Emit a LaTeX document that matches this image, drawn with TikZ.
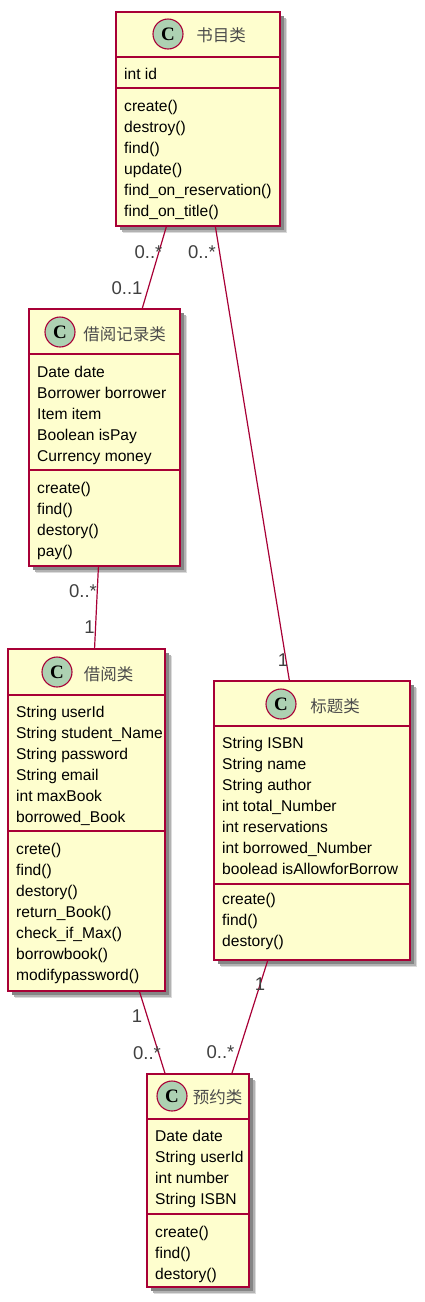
\documentclass[tikz,border=0pt]{standalone}
\usepackage{fontspec}
\setmainfont{Liberation Sans}
\newfontfamily\cjkfont{Noto Sans CJK SC}
\newfontfamily\spotfont{Liberation Serif}
\usetikzlibrary{shadows}
\definecolor{boxred}{HTML}{A80036}
\definecolor{boxfill}{HTML}{FEFECE}
\definecolor{spotfill}{HTML}{ADD1B2}
\tikzset{
  classbox/.style={draw=boxred,line width=1.6pt,fill=boxfill,inner sep=0pt,
    general shadow={shadow xshift=6.5pt,shadow yshift=-6.5pt,fill=black!14},
    general shadow={shadow xshift=5.5pt,shadow yshift=-5.5pt,fill=black!30},
    general shadow={shadow xshift=4pt,shadow yshift=-4pt,fill=black!48}},
  divider/.style={draw=boxred,line width=1.5pt},
  spot/.style={circle,draw=boxred,line width=1.1pt,fill=spotfill,minimum size=30pt,inner sep=0pt,
    font=\spotfont\bfseries\fontsize{19}{19}\selectfont},
  title/.style={font=\cjkfont\fontsize{16.5}{17}\selectfont,text=black!70,inner sep=0pt},
  members/.style={anchor=north west,align=left,inner sep=0pt,
    font=\fontsize{15.6}{21}\selectfont},
  assoc/.style={draw=boxred,line width=1.2pt},
  mult/.style={font=\fontsize{18.5}{18.5}\selectfont,text=black!75,inner sep=0pt}
}

\begin{document}
\begin{tikzpicture}[x=1pt,y=-1pt]
    \useasboundingbox (0,0) rectangle (424,1302);

    % book class
    \node[classbox,minimum width=164,minimum height=214] (shumu) at (198,119) {};
    \draw[divider] (shumu.west |- 0,57) -- (shumu.east |- 0,57);
    \draw[divider] (shumu.west |- 0,88) -- (shumu.east |- 0,88);
    \node[spot] (shumuC) at (168,34) {C};
    \node[title] (shumuT) at (221,35) {书目类};
    \node[members] (shumuA) at (124,67.5) {int id};
    \node[members] (shumuM) at (124,99.5) {create()\\destroy()\\find()\\update()\\find\_on\_reservation()\\find\_on\_title()};

    % borrow record class
    \node[classbox,minimum width=151,minimum height=257] (jilu) at (104.5,437.5) {};
    \draw[divider] (jilu.west |- 0,354) -- (jilu.east |- 0,354);
    \draw[divider] (jilu.west |- 0,470) -- (jilu.east |- 0,470);
    \node[spot] (jiluC) at (60,332) {C};
    \node[title] (jiluT) at (124.5,334) {借阅记录类};
    \node[members] (jiluA) at (37,365.5) {Date date\\Borrower borrower\\Item item\\Boolean isPay\\Currency money};
    \node[members] (jiluM) at (37,481.5) {create()\\find()\\destory()\\pay()};

    % borrower class
    \node[classbox,minimum width=157,minimum height=342] (jieyue) at (86.5,820) {};
    \draw[divider] (jieyue.west |- 0,695) -- (jieyue.east |- 0,695);
    \draw[divider] (jieyue.west |- 0,831) -- (jieyue.east |- 0,831);
    \node[spot] (jieyueC) at (57,672) {C};
    \node[title] (jieyueT) at (108.5,674) {借阅类};
    \node[members] (jieyueA) at (16,705.5) {String userId\\String student\_Name\\String password\\String email\\int maxBook\\borrowed\_Book};
    \node[members] (jieyueM) at (16,842.5) {crete()\\find()\\destory()\\return\_Book()\\check\_if\_Max()\\borrowbook()\\modifypassword()};

    % title class
    \node[classbox,minimum width=196,minimum height=279] (biaoti) at (312,820.5) {};
    \draw[divider] (biaoti.west |- 0,726) -- (biaoti.east |- 0,726);
    \draw[divider] (biaoti.west |- 0,884) -- (biaoti.east |- 0,884);
    \node[spot] (biaotiC) at (281,704) {C};
    \node[title] (biaotiT) at (335,706) {标题类};
    \node[members] (biaotiA) at (222,736.5) {String ISBN\\String name\\String author\\int total\_Number\\int reservations\\int borrowed\_Number\\boolead isAllowforBorrow};
    \node[members] (biaotiM) at (222,892.5) {create()\\find()\\destory()};

    % reservation class
    \node[classbox,minimum width=102,minimum height=213] (yuyue) at (198,1180.5) {};
    \draw[divider] (yuyue.west |- 0,1119) -- (yuyue.east |- 0,1119);
    \draw[divider] (yuyue.west |- 0,1214) -- (yuyue.east |- 0,1214);
    \node[spot] (yuyueC) at (172,1096) {C};
    \node[title] (yuyueT) at (217.5,1097) {预约类};
    \node[members] (yuyueA) at (155,1129.5) {Date date\\String userId\\int number\\String ISBN};
    \node[members] (yuyueM) at (155,1225.5) {create()\\find()\\destory()};

    % associations
    \draw[assoc] (shumu) -- (jilu);
    \draw[assoc] (shumu) -- (biaoti);
    \draw[assoc] (jilu) -- (jieyue);
    \draw[assoc] (jieyue) -- (yuyue);
    \draw[assoc] (biaoti) -- (yuyue);

    % multiplicities
    \node[mult] (m1) at (148.5,252) {0..*};
    \node[mult] (m2) at (127,288) {0..1};
    \node[mult] (m3) at (202,252) {0..*};
    \node[mult] (m4) at (283,660) {1};
    \node[mult] (m5) at (83,591) {0..*};
    \node[mult] (m6) at (89.5,627) {1};
    \node[mult] (m7) at (137,1016) {1};
    \node[mult] (m8) at (147,1053) {0..*};
    \node[mult] (m9) at (220.5,1052) {0..*};
    \node[mult] (m10) at (260,984) {1};
\end{tikzpicture}
\end{document}
